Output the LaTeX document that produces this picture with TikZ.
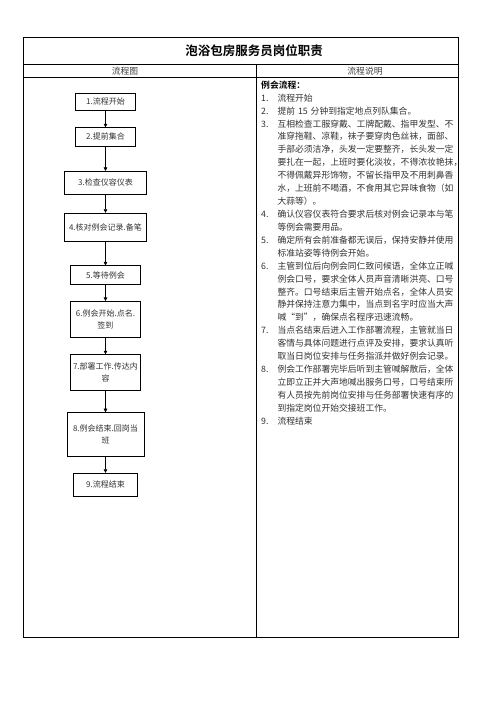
\documentclass[tikz,border=0pt]{standalone}
\usepackage{fontspec}
\setmainfont[BoldFont={Noto Sans CJK SC Bold}]{Noto Sans CJK SC}
\usetikzlibrary{arrows.meta,positioning}
\tikzset{
	tableline/.style={line width=1pt},
	stepbox/.style={draw, line width=0.6pt, align=center, inner sep=1pt,
		text=black!80, font=\fontsize{8}{12}\selectfont},
	arrow/.style={-{Triangle[length=3.6pt,width=3.6pt]}, line width=0.6pt},
	headtext/.style={font=\fontsize{8.8}{10}\selectfont, text=black!75},
	numtext/.style={anchor=base west, inner sep=0pt,
		font=\fontsize{8.8}{12.92}\selectfont, text=black!80},
	desctext/.style={numtext, text width=178pt, align=left}
}

\begin{document}
\begin{tikzpicture}[x=1pt,y=-1pt]
	\useasboundingbox (0,0) rectangle (496,702);
	\fill[white] (0,0) rectangle (496,702);
	
	%% -- Table frame
	\draw[tableline] (23.3,37.7) rectangle (458.7,637);
	\draw[tableline] (23.3,64.3) -- (458.7,64.3);
	\draw[tableline] (23.3,77.7) -- (458.7,77.7);
	\draw[tableline] (256.3,64.3) -- (256.3,637);
	
	\node[font=\fontsize{12.5}{15}\selectfont\bfseries] (title) at (254,51)
	{泡浴包房服务员岗位职责};
	\node[headtext] (hleft) at (125,71) {流程图};
	\node[headtext] (hright) at (365,71) {流程说明};
	
	%% -- Flow chart (left column)
	\node[stepbox, minimum width=59.6pt, minimum height=16.7pt] (s1)
	at (105.5,101.7) {1.流程开始};
	\node[stepbox, minimum width=59.6pt, minimum height=18.3pt,
	below=17pt of s1] (s2) {2.提前集合};
	\node[stepbox, minimum width=82.4pt, minimum height=23.3pt,
	below=24.7pt of s2] (s3) {3.检查仪容仪表};
	\node[stepbox, minimum width=82.4pt, minimum height=28pt,
	below=18pt of s3] (s4) {4.核对例会记录.备笔};
	\node[stepbox, minimum width=70pt, minimum height=19pt,
	below=24pt of s4] (s5) {5.等待例会};
	\node[stepbox, minimum width=70pt, minimum height=36pt,
	below=16pt of s5] (s6) {6.例会开始.点名.\\签到};
	\node[stepbox, minimum width=70pt, minimum height=35.7pt,
	below=16.7pt of s6] (s7) {7.部署工作.传达内\\容};
	\node[stepbox, minimum width=77pt, minimum height=44pt,
	below=21.6pt of s7] (s8) {8.例会结束.回岗当\\班};
	\node[stepbox, minimum width=64pt, minimum height=22.7pt,
	below=16pt of s8] (s9) {9.流程结束};
	
	\foreach \a/\b in {s1/s2,s2/s3,s3/s4,s4/s5,s5/s6,s6/s7,s7/s8,s8/s9}
	\draw[arrow] (\a) -- (\b);
	
	%% -- Description (right column)
	\node[numtext, font=\fontsize{8.8}{12.92}\selectfont\bfseries, text=black]
	(heading) at (261,88.3) {例会流程：};
	
	\foreach \n/\k/\txt in {
		1/1/{流程开始},
		2/2/{提前 15 分钟到指定地点列队集合。},
		3/3/{互相检查工服穿戴、工牌配戴、指甲发型、不\\准穿拖鞋、凉鞋，袜子要穿肉色丝袜，面部、\\手部必须洁净，头发一定要整齐，长头发一定\\要扎在一起，上班时要化淡妆，不得浓妆艳抹\makebox[0.4em][l]{，}\\不得佩戴异形饰物，不留长指甲及不用刺鼻香\\水，上班前不喝酒，不食用其它异味食物（如\\大蒜等）。},
		4/10/{确认仪容仪表符合要求后核对例会记录本与笔\\等例会需要用品。},
		5/12/{确定所有会前准备都无误后，保持安静并使用\\标准站姿等待例会开始。},
		6/14/{主管到位后向例会同仁致问候语，全体立正喊\\例会口号，要求全体人员声音清晰洪亮、口号\\整齐。口号结束后主管开始点名，全体人员安\\静并保持注意力集中，当点到名字时应当大声\\喊“到”，确保点名程序迅速流畅。},
		7/19/{当点名结束后进入工作部署流程，主管就当日\\客情与具体问题进行点评及安排，要求认真听\\取当日岗位安排与任务指派并做好例会记录。},
		8/22/{例会工作部署完毕后听到主管喊解散后，全体\\立即立正并大声地喊出服务口号，口号结束所\\有人员按先前岗位安排与任务部署快速有序的\\到指定岗位开始交接班工作。},
		9/26/{流程结束}} {
		\node[numtext] (num\n) at (261,88.3+12.92*\k) {\n.};
		\node[desctext] (desc\n) at (277.3,88.3+12.92*\k) {\txt};
	}
	
\end{tikzpicture}
\end{document}
